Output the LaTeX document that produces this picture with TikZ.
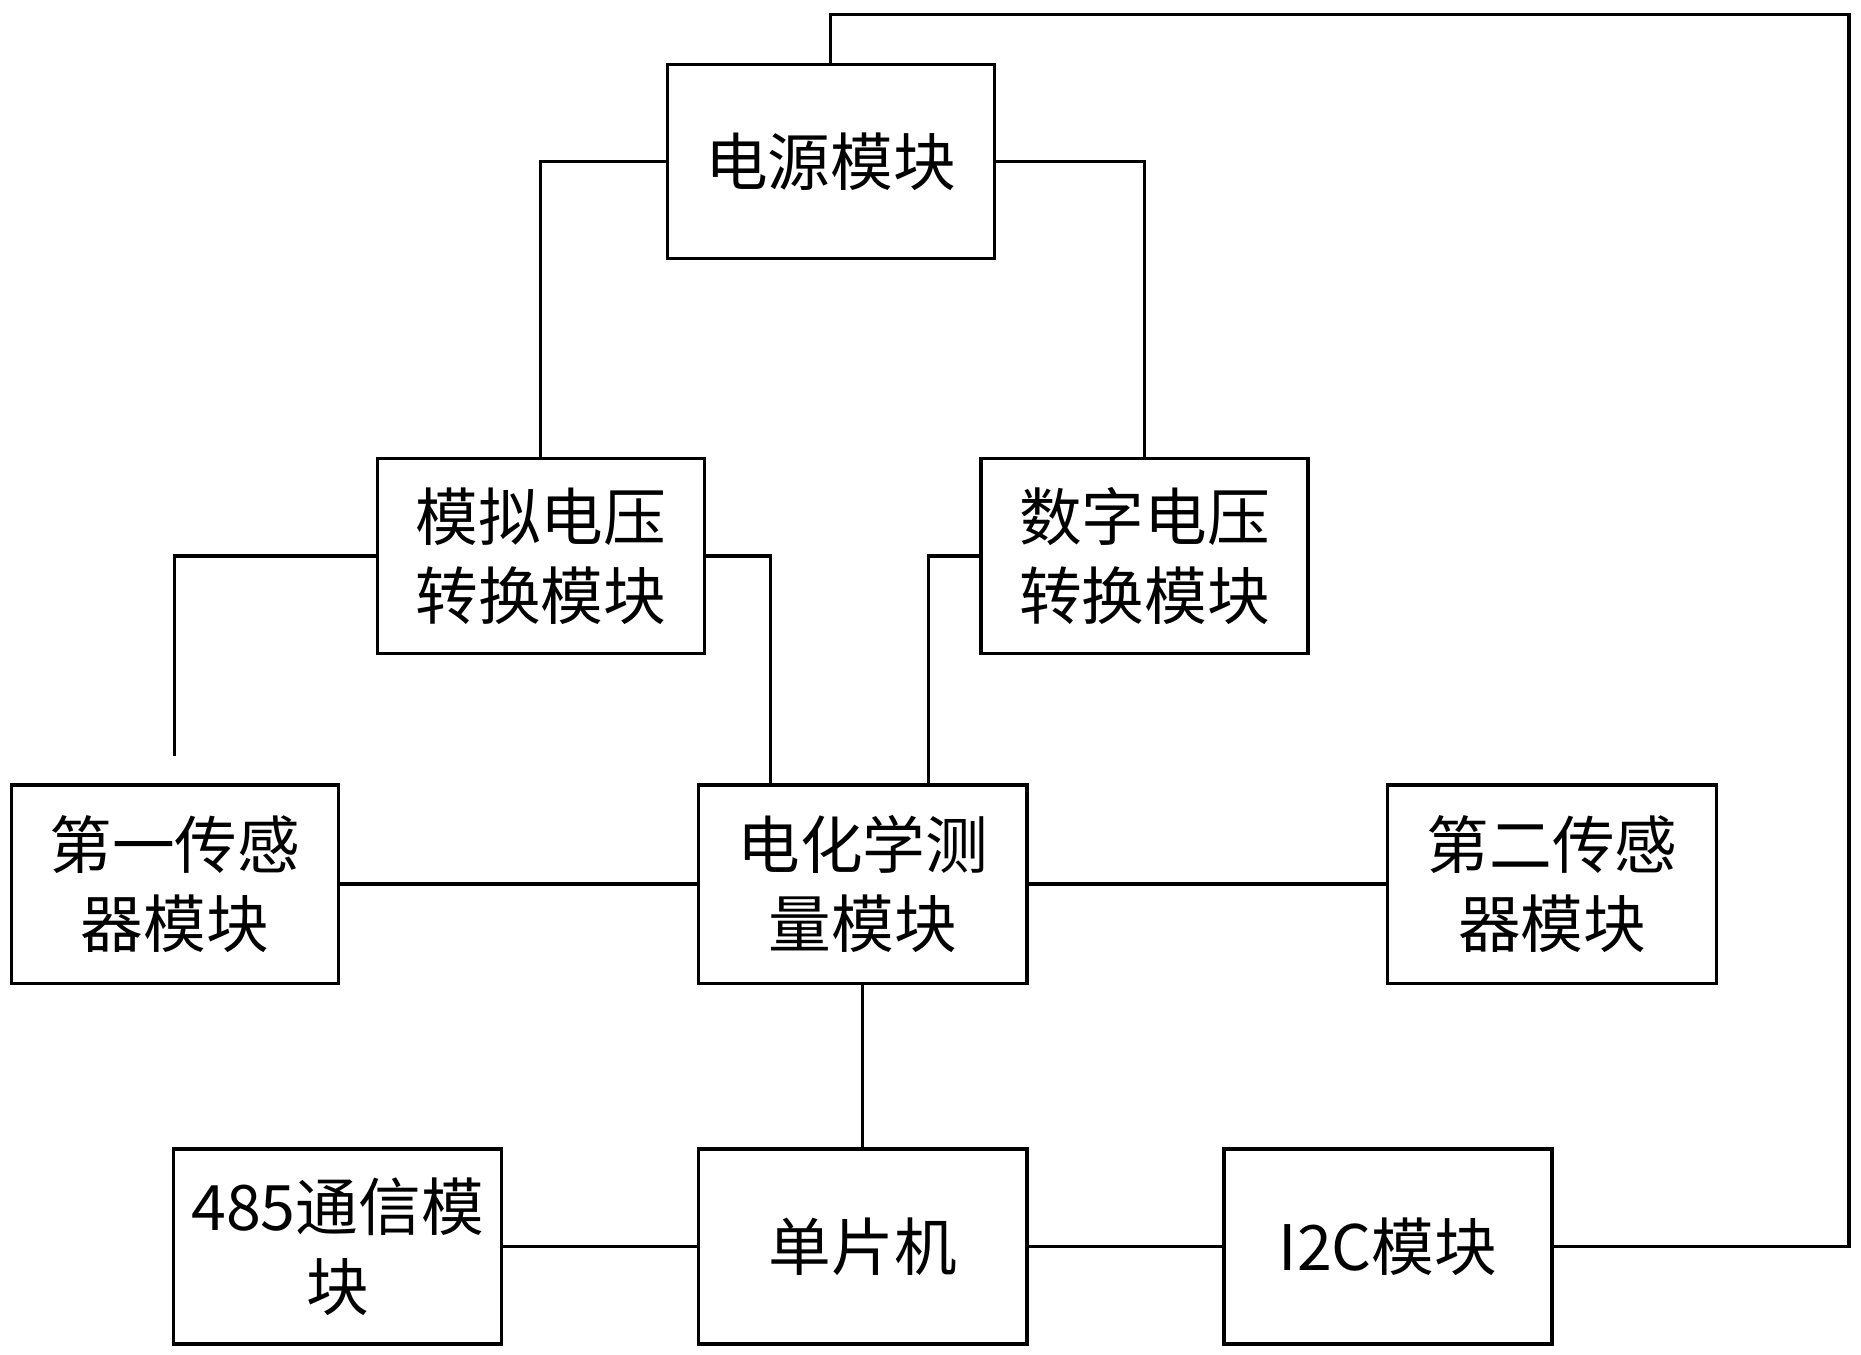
\documentclass[tikz,border=0pt]{standalone}
\usepackage{fontspec}
\newfontfamily\cjk{Noto Sans CJK SC}
\usetikzlibrary{positioning, calc}
\tikzset{
    block/.style={draw, line width=0.8pt, minimum width=2.75cm, minimum height=1.64cm,
      align=center, font=\cjk\fontsize{15}{19}\selectfont, inner sep=0pt},
    wire/.style={line width=0.8pt},
}
\begin{document}
\begin{tikzpicture}[x=0.01cm, y=-0.01cm]
    \useasboundingbox (0,0) rectangle (1566,1140);

    \node[block, minimum height=1.63cm] (power) at (699,136) {电源模块};
    \node[block] (analog) at (455,468) {模拟电压\\转换模块};
    \node[block] (digital) at (963,468) {数字电压\\转换模块};
    \node[block, minimum height=1.67cm] (sensorA) at (147,744) {第一传感\\器模块};
    \node[block, minimum height=1.67cm, minimum width=2.76cm] (echem) at (726,744) {电化学测\\量模块};
    \node[block, minimum height=1.67cm, minimum width=2.77cm] (sensorB) at (1306,744) {第二传感\\器模块};
    \node[block, minimum width=2.76cm] (comm) at (284,1049) {485通信模\\块};
    \node[block, minimum width=2.76cm] (mcu) at (726,1049) {单片机};
    \node[block, minimum width=2.76cm] (iic) at (1168,1049) {I2C模块};
    \coordinate (stub) at (147,636);

    \draw[wire] (power.west) -| (analog.north);
    \draw[wire] (power.east) -| (digital.north);
    \draw[wire] (power.north) |- (1556,12) |- (iic.east);
    \draw[wire] (analog.west) -| (stub);
    \draw[wire] (analog.east) -| ($(echem.north west)+(62,0)$);
    \draw[wire] (digital.west) -| ($(echem.north west)+(195,0)$);
    \draw[wire] (sensorA) -- (echem);
    \draw[wire] (echem) -- (sensorB);
    \draw[wire] (echem) -- (mcu);
    \draw[wire] (comm) -- (mcu);
    \draw[wire] (mcu) -- (iic);
\end{tikzpicture}
\end{document}
